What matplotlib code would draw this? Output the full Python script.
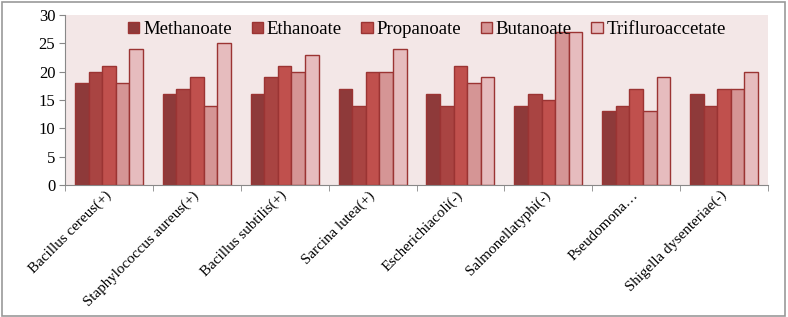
import numpy as np
import matplotlib
matplotlib.use("Agg")
import matplotlib.pyplot as plt
from matplotlib.patches import Rectangle

# data
organisms = [
    "Bacillus cereus(+)",
    "Staphylococcus aureus(+)",
    "Bacillus subtilis(+)",
    "Sarcina lutea(+)",
    "Escherichiacoli(-)",
    "Salmonellatyphi(-)",
    "Pseudomona…",
    "Shigella dysenteriae(-)",
]
series_names = ["Methanoate", "Ethanoate", "Propanoate", "Butanoate", "Trifluroaccetate"]
methanoate = [18, 16, 16, 17, 16, 14, 13, 16]
ethanoate = [20, 17, 19, 14, 14, 16, 14, 14]
propanoate = [21, 19, 21, 20, 21, 15, 17, 17]
butanoate = [18, 14, 20, 20, 18, 27, 13, 17]
trifluro = [24, 25, 23, 24, 19, 27, 19, 20]
y_ticks = [0, 5, 10, 15, 20, 25, 30]

colors = ["#8E3A3A", "#A94442", "#C0504D", "#D59595", "#E6BCBE"]
edge = "#9B3433"

plt.rcParams["font.family"] = ["Liberation Serif", "DejaVu Serif"]

fig = plt.figure(figsize=(7.88, 3.17), dpi=100)
ax = fig.add_axes([65 / 788, 1 - 185 / 317, (768 - 65) / 788, 170 / 317])
ax.set_facecolor("#F3E7E7")

x = np.arange(len(organisms))
bw = 0.155
all_series = [methanoate, ethanoate, propanoate, butanoate, trifluro]
for i, (name, vals) in enumerate(zip(series_names, all_series)):
    ax.bar(x + (i - 2) * bw, vals, width=bw, color=colors[i], edgecolor=edge,
           linewidth=1.0, label=name)

ax.set_xlim(-0.5, len(organisms) - 0.5)
ax.set_ylim(0, 30)
ax.set_yticks(y_ticks)
ax.tick_params(axis="y", labelsize=12, length=4, color="#888888", pad=3)

# category labels at centers, tick marks at boundaries
ax.set_xticks(x)
ax.set_xticks(np.arange(len(organisms) + 1) - 0.5, minor=True)
ax.tick_params(axis="x", which="major", length=0, pad=6)
ax.tick_params(axis="x", which="minor", length=4, color="#888888")
ax.set_xticklabels(organisms, rotation=45, ha="right", va="center",
                   rotation_mode="anchor", fontsize=10.8)

for side in ["top", "right"]:
    ax.spines[side].set_visible(False)
for side in ["left", "bottom"]:
    ax.spines[side].set_color("#888888")

ax.legend(loc="upper center", bbox_to_anchor=(0.515, 1.03), ncol=5, frameon=False,
          fontsize=13.5, handlelength=0.6, handleheight=0.6, handletextpad=0.2,
          columnspacing=1.05, borderaxespad=0.2)

fig.patches.append(Rectangle((0.002, 0.004), 0.994, 0.99, transform=fig.transFigure,
                             fill=False, edgecolor="#999999", linewidth=1.2))

fig.savefig("out.png", dpi=100)
